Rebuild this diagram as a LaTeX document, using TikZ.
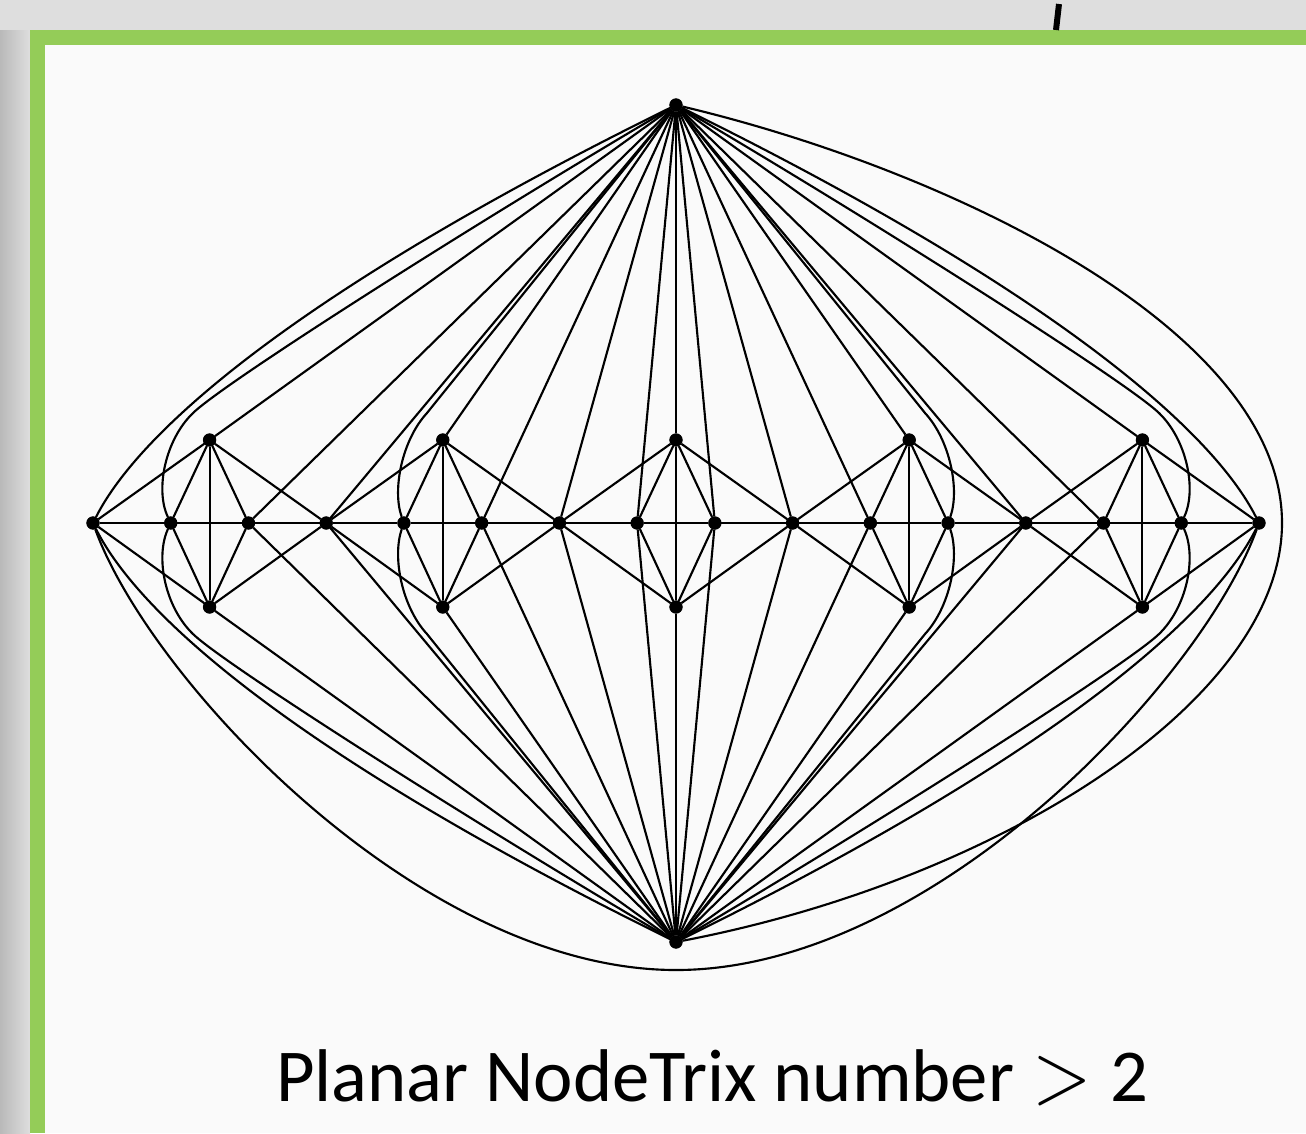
\documentclass[tikz,border=0pt]{standalone}
\usepackage{graphicx}
\usepackage{fontspec}
\setmainfont{Carlito}
\definecolor{framegreen}{RGB}{148,204,88}
\definecolor{bggray}{RGB}{222,222,222}
\definecolor{panel}{RGB}{250,250,250}
\newcommand{\bigrel}{\raisebox{-0.03em}{\scalebox{2.35}[2.7]{\fontsize{24.88}{30}\selectfont$>$}}}
\begin{document}
\begin{tikzpicture}[x=0.75pt,y=-0.75pt,
  dot/.style={circle,fill=black,inner sep=0pt,minimum size=9.5pt},
  edge/.style={line width=1.6pt,black},
  caption/.style={font=\fontsize{56}{64}\selectfont,anchor=base west,inner sep=0pt}]
\path[use as bounding box] (0,0) rectangle (1306,1133);
% background and frame
\fill[bggray] (0,0) rectangle (1306,1133);
\shade[left color=gray!55,right color=bggray] (0,30) rectangle (30,1133);
\fill[framegreen] (30,30) rectangle (1306,1133);
\fill[panel] (45,45) rectangle (1306,1133);
\draw[line width=4.5pt] (1059,4) -- (1056,30);

% nodes
\foreach \i in {0,...,15} \node[dot] (h\i) at ({93+77.733*\i},523) {};
\foreach \g/\x in {1/209.6,2/442.8,3/676,4/909.2,5/1142.4}{
  \node[dot] (u\g) at (\x,440) {};
  \node[dot] (d\g) at (\x,607) {};
}
\node[dot] (T) at (676,105) {};
\node[dot] (B) at (676,942) {};

% path
\foreach \i [evaluate=\i as \j using int(\i+1)] in {0,...,14}
  \draw[edge] (h\i) -- (h\j);

% gadgets
\foreach \g in {1,...,5}{
  \pgfmathtruncatemacro\na{3*\g-3}
  \pgfmathtruncatemacro\nb{3*\g-2}
  \pgfmathtruncatemacro\nc{3*\g-1}
  \pgfmathtruncatemacro\nd{3*\g}
  \foreach \v in {u,d}{
    \foreach \n in {\na,\nb,\nc,\nd} \draw[edge] (\v\g) -- (h\n);
  }
  \draw[edge] (u\g) -- (d\g);
  \draw[edge] (T) -- (u\g);
  \draw[edge] (B) -- (d\g);
}

% straight apex edges
\foreach \i in {2,3,5,6,7,8,9,10,12,13}{
  \draw[edge] (T) -- (h\i);
  \draw[edge] (B) -- (h\i);
}

% waypoints
\coordinate (w1) at (193,413);
\coordinate (w2) at (427,413);
\coordinate (w4) at (925,413);
\coordinate (w5) at (1159,413);
\coordinate (v1) at (193,634);
\coordinate (v2) at (427,634);
\coordinate (v4) at (925,634);
\coordinate (v5) at (1159,634);
\coordinate (rb) at (1282,523);
\coordinate (lo) at (676,970);

% curved edges to T
\draw[edge] (h0) .. controls (140,430) and (300,290) .. (T);
\draw[edge] (h1) .. controls (155,490) and (165,440) .. (w1) .. controls (225,382) and (480,220) .. (T);
\draw[edge] (h4) .. controls (392,490) and (402,440) .. (w2) .. controls (447,388) and (596,204) .. (T);
\draw[edge] (h15) .. controls (1212,430) and (1052,290) .. (T);
\draw[edge] (h14) .. controls (1197,490) and (1187,440) .. (w5) .. controls (1127,382) and (872,220) .. (T);
\draw[edge] (h11) .. controls (960,490) and (950,440) .. (w4) .. controls (905,388) and (756,204) .. (T);

% curved edges to B
\draw[edge] (h0) .. controls (140,617) and (300,757) .. (B);
\draw[edge] (h1) .. controls (155,557) and (165,607) .. (v1) .. controls (225,665) and (480,827) .. (B);
\draw[edge] (h4) .. controls (392,557) and (402,607) .. (v2) .. controls (447,659) and (596,843) .. (B);
\draw[edge] (h15) .. controls (1212,617) and (1052,757) .. (B);
\draw[edge] (h14) .. controls (1197,557) and (1187,607) .. (v5) .. controls (1127,665) and (872,827) .. (B);
\draw[edge] (h11) .. controls (960,557) and (950,607) .. (v4) .. controls (905,659) and (756,843) .. (B);

% long edges
\draw[edge] (T) .. controls (950,170) and (1282,330) .. (rb) .. controls (1282,700) and (1000,880) .. (B);
\draw[edge] (h0) .. controls (150,680) and (420,970) .. (lo) .. controls (932,970) and (1202,680) .. (h15);

% dots on top
\foreach \i in {0,...,15} \fill (h\i) circle (5pt);
\foreach \g in {1,...,5}{\fill (u\g) circle (5pt); \fill (d\g) circle (5pt);}
\fill (T) circle (5pt);
\fill (B) circle (5pt);

\node[caption] (cap) at (276,1101) {Planar NodeTrix number\hspace{0.25em}\bigrel\hspace{0.25em}2};
\end{tikzpicture}
\end{document}
